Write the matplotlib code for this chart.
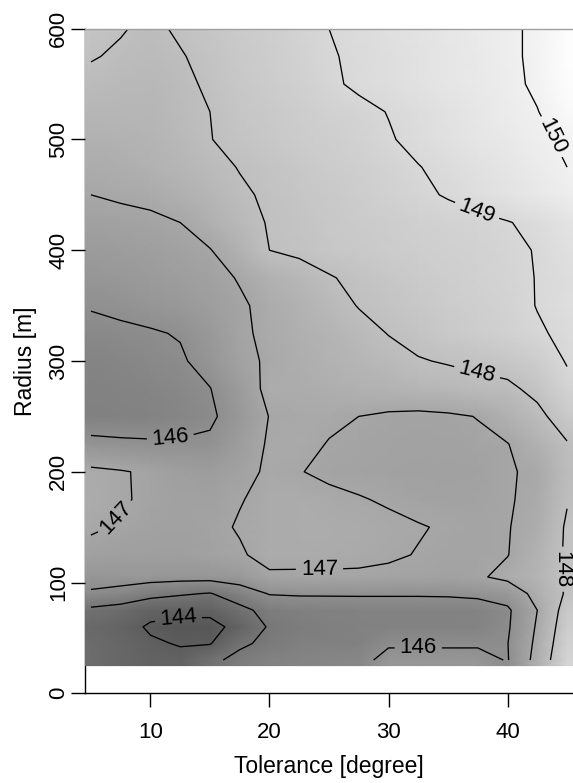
import numpy as np
import matplotlib
matplotlib.use("Agg")
import matplotlib.pyplot as plt

# Grid of the surface: tolerance (degree) across, radius (m) up
tolerance = [5, 7.5, 10, 12.5, 15, 17.5, 20, 22.5, 25, 27.5, 30, 32.5, 35, 37.5, 40, 42.5, 45]
radius = [30, 45, 60, 75, 90, 105, 125, 150, 175, 200, 225, 250, 275, 300,
          325, 350, 375, 400, 425, 450, 475, 500, 525, 550, 575, 600]

# One row per radius, one value per tolerance
mean_value = [
    [144.6, 144.4, 144.25, 144.2, 144.8, 145.25, 145.5, 145.6, 145.65, 145.7, 146.3, 146.3, 146.3, 146.3, 145.95, 147.33, 148.85],
    [144.6, 144.4, 144.1, 143.95, 143.95, 144.85, 145.2, 145.4, 145.4, 145.45, 145.89, 145.89, 145.89, 145.89, 145.98, 147.2, 148.7],
    [144.5, 144.3, 143.9, 143.75, 143.75, 144.25, 145.1, 145.3, 145.4, 145.45, 145.5, 145.5, 145.5, 145.55, 145.9, 147.1, 148.55],
    [144.8, 144.6, 144.25, 144.2, 144.2, 144.75, 145.3, 145.4, 145.45, 145.5, 145.5, 145.5, 145.5, 145.55, 145.86, 147.0, 148.4],
    [145.9, 145.7, 145.3, 145.1, 144.95, 145.5, 146.05, 146.1, 146.1, 146.1, 146.1, 146.1, 146.12, 146.2, 146.4, 147.3, 148.1],
    [146.3, 146.35, 146.35, 146.3, 146.3, 146.45, 146.9, 146.92, 146.92, 146.92, 146.9, 146.85, 146.8, 146.9, 147.2, 147.55, 148.1],
    [146.75, 146.7, 146.68, 146.7, 146.8, 146.93, 147.2, 147.15, 147.15, 147.12, 147.06, 146.98, 146.9, 146.88, 146.98, 147.45, 148.1],
    [147.1, 146.93, 146.8, 146.78, 146.85, 147.05, 147.15, 147.2, 147.2, 147.15, 147.1, 147.03, 146.95, 146.9, 146.97, 147.25, 148.1],
    [147.2, 147.06, 146.9, 146.75, 146.75, 146.97, 147.15, 147.2, 147.12, 147.03, 146.95, 146.85, 146.82, 146.85, 146.95, 147.15, 147.95],
    [147.15, 147.05, 146.9, 146.7, 146.6, 146.8, 147.1, 147.02, 146.9, 146.85, 146.8, 146.78, 146.78, 146.82, 146.95, 147.1, 147.85],
    [146.25, 146.15, 146.1, 146.1, 146.15, 146.6, 147.08, 147.12, 146.98, 146.9, 146.85, 146.82, 146.82, 146.88, 146.98, 147.4, 147.95],
    [145.45, 145.5, 145.55, 145.65, 145.85, 146.45, 147.02, 147.1, 147.08, 147.0, 146.9, 146.85, 146.9, 147.02, 147.4, 147.8, 148.4],
    [145.5, 145.55, 145.62, 145.75, 145.98, 146.55, 147.2, 147.22, 147.32, 147.4, 147.5, 147.6, 147.7, 147.8, 147.85, 148.2, 148.8],
    [145.6, 145.68, 145.77, 145.9, 146.3, 146.8, 147.1, 147.3, 147.45, 147.6, 147.78, 147.96, 148.05, 148.15, 148.3, 148.55, 149.05],
    [145.8, 145.87, 145.93, 146.05, 146.45, 146.88, 147.15, 147.35, 147.55, 147.77, 148.02, 148.2, 148.37, 148.55, 148.7, 148.93, 149.12],
    [146.05, 146.15, 146.3, 146.45, 146.62, 146.9, 147.2, 147.45, 147.72, 148.03, 148.2, 148.35, 148.5, 148.63, 148.78, 149.02, 149.25],
    [146.3, 146.4, 146.5, 146.62, 146.77, 147.05, 147.4, 147.65, 147.95, 148.15, 148.3, 148.45, 148.58, 148.7, 148.83, 149.02, 149.2],
    [146.53, 146.6, 146.7, 146.82, 146.97, 147.45, 148.0, 148.15, 148.3, 148.4, 148.5, 148.58, 148.66, 148.75, 148.88, 149.03, 149.3],
    [146.77, 146.82, 146.88, 147.0, 147.37, 147.73, 148.05, 148.2, 148.35, 148.45, 148.55, 148.65, 148.75, 148.85, 148.97, 149.15, 149.45],
    [147.0, 147.08, 147.15, 147.35, 147.6, 147.9, 148.1, 148.25, 148.4, 148.55, 148.7, 148.88, 149.05, 149.25, 149.45, 149.65, 149.85],
    [147.2, 147.3, 147.45, 147.6, 147.8, 148.03, 148.2, 148.35, 148.5, 148.62, 148.8, 148.98, 149.15, 149.35, 149.55, 149.75, 150.0],
    [147.4, 147.45, 147.55, 147.75, 147.98, 148.2, 148.35, 148.5, 148.6, 148.75, 148.95, 149.15, 149.35, 149.55, 149.7, 149.88, 150.1],
    [147.6, 147.6, 147.6, 147.8, 148.0, 148.25, 148.4, 148.55, 148.7, 148.85, 149.02, 149.2, 149.4, 149.6, 149.8, 149.98, 150.35],
    [147.8, 147.75, 147.7, 147.85, 148.1, 148.35, 148.5, 148.65, 148.9, 149.1, 149.25, 149.4, 149.55, 149.7, 149.85, 150.1, 150.45],
    [148.05, 147.9, 147.8, 147.95, 148.2, 148.4, 148.55, 148.75, 148.95, 149.1, 149.25, 149.4, 149.55, 149.7, 149.9, 150.1, 150.5],
    [148.2, 148.05, 147.85, 148.1, 148.25, 148.45, 148.6, 148.8, 149.0, 149.15, 149.3, 149.45, 149.6, 149.75, 149.9, 150.1, 150.5],
]

contour_levels = [144, 145, 146, 147, 148, 149, 150]
x_ticks = [10, 20, 30, 40]
y_ticks = [0, 100, 200, 300, 400, 500, 600]

# Where the contour labels sit (tolerance, radius)
label_spots = [(12.3, 71), (11.7, 227), (7.0, 159), (24.2, 108), (32.5, 41),
               (37.5, 292), (44.6, 112), (37.5, 437), (44.2, 505)]

plt.rcParams['font.family'] = ['Liberation Sans', 'DejaVu Sans']

fig = plt.figure(figsize=(5.73, 7.83), dpi=100)
W, H = 573.0, 783.0
ax = fig.add_axes([85 / W, (H - 693.3) / H, 1 - 85 / W, (693.3 - 28.7) / H])

x = np.array(tolerance, dtype=float)
y = np.array(radius, dtype=float)
z = np.array(mean_value, dtype=float)

# Shaded surface; outer cells stretch half a step past the outermost nodes
xd = np.concatenate([[4.5], x, [45.5]])
yd = np.concatenate([[25.0], y])
zd = np.pad(z, ((1, 0), (1, 1)), mode='edge')
ax.pcolormesh(xd, yd, zd, shading='gouraud', cmap='gray',
              vmin=140.2, vmax=150.6, zorder=1, rasterized=True)

cs = ax.contour(x, y, z, levels=contour_levels, colors='black',
                linewidths=0.95, zorder=2)
ax.clabel(cs, fmt='%d', fontsize=16, inline=True, inline_spacing=5,
          manual=label_spots)

ax.set_xlim(4.5, 45.5)
ax.set_ylim(0, 600)
ax.set_xticks(x_ticks)
ax.set_yticks(y_ticks)
ax.tick_params(length=10, width=1, labelsize=16, direction='out', color='black')
ax.tick_params(axis='x', pad=10.5)
ax.tick_params(axis='y', pad=1.4)
for lab in ax.get_yticklabels():
    lab.set_rotation(90)
    lab.set_va('center')

ax.spines['right'].set_visible(False)
ax.spines['top'].set_color('#a0a0a0')
ax.spines['top'].set_linewidth(1.0)
ax.spines['left'].set_zorder(0.5)
ax.spines['left'].set_linewidth(1.0)
ax.spines['bottom'].set_linewidth(1.0)

ax.set_xlabel('Tolerance [degree]', fontsize=16.5, labelpad=8.5)
ax.set_ylabel('Radius [m]', fontsize=16.5, labelpad=8)

fig.savefig('out.png', dpi=100)
